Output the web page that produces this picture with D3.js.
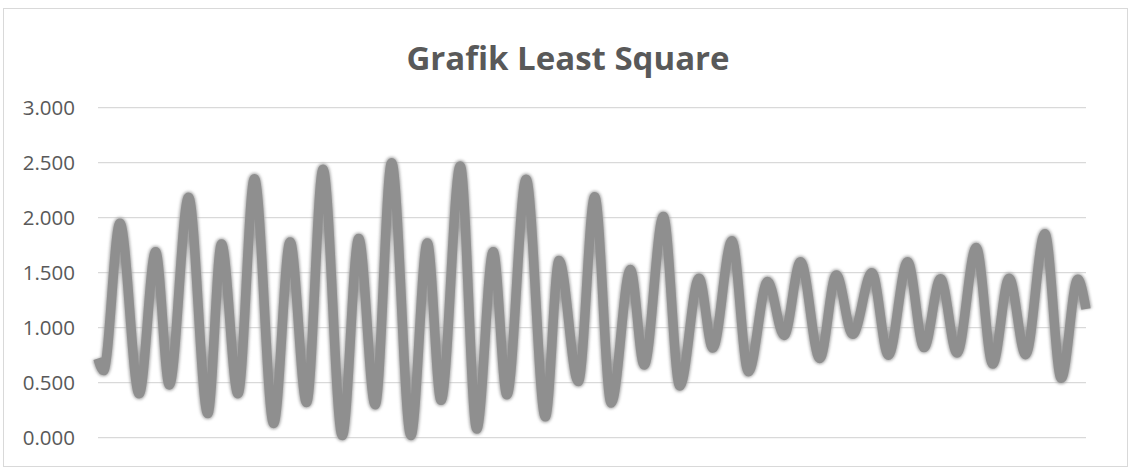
<!DOCTYPE html>
<html>
<head>
<meta charset="utf-8">
<script src="https://cdn.jsdelivr.net/npm/d3@7"></script>
<style>
  html, body { margin: 0; padding: 0; background: #fff; }
  svg { display: block; }
</style>
</head>
<body>
<figure id="least-square" style="margin:0"></figure>
<script>
// Hour of each turning point (plus start/end) and the water level
const hours = [0, 2, 8, 15, 21, 26, 33, 40, 45, 51, 57, 64, 70, 76, 82, 89, 95, 101, 107, 114,
  120, 125, 132, 138, 144, 149, 156, 163, 168, 175, 181, 187, 194, 199, 206, 212, 219, 224,
  231, 237, 244, 250, 256, 263, 269, 275, 282, 288, 295, 301, 307, 313, 320, 326, 332, 338,
  345, 351, 357, 360];
const levels = [0.72, 0.61, 1.95, 0.40, 1.69, 0.48, 2.185, 0.22, 1.76, 0.40, 2.355, 0.13, 1.78,
  0.32, 2.44, 0.02, 1.81, 0.30, 2.50, 0.02, 1.77, 0.34, 2.47, 0.08, 1.69, 0.39, 2.35, 0.19,
  1.61, 0.51, 2.19, 0.315, 1.53, 0.66, 2.01, 0.47, 1.45, 0.815, 1.79, 0.60, 1.42, 0.93, 1.60,
  0.72, 1.48, 0.94, 1.50, 0.75, 1.60, 0.82, 1.445, 0.77, 1.73, 0.67, 1.45, 0.755, 1.855, 0.54,
  1.44, 1.17];
const yTicks = [0, 0.5, 1, 1.5, 2, 2.5, 3];
const title = "Grafik Least Square";

const width = 1132, height = 469;
const plot = { left: 98, right: 1086, top: 107.7, bottom: 437.7 };

const svg = d3.select("figure#least-square")
  .append("svg")
  .attr("width", width)
  .attr("height", height);

// Chart border
svg.append("rect")
  .attr("x", 3.5).attr("y", 8.5)
  .attr("width", 1124).attr("height", 458)
  .attr("fill", "#fff")
  .attr("stroke", "#d9d9d9");

const x = d3.scaleLinear().domain([0, 360]).range([plot.left, plot.right]);
const y = d3.scaleLinear().domain([0, 3]).range([plot.bottom, plot.top]);

// Gridlines
svg.append("g")
  .selectAll("line")
  .data(yTicks)
  .join("line")
  .attr("x1", plot.left).attr("x2", plot.right)
  .attr("y1", d => y(d)).attr("y2", d => y(d))
  .attr("stroke", "#d9d9d9")
  .attr("stroke-width", 1.3);

// Y-axis labels
const fmt = d3.format(".3f");
svg.append("g")
  .selectAll("text")
  .data(yTicks)
  .join("text")
  .attr("x", 75)
  .attr("y", d => y(d))
  .attr("dy", "0.36em")
  .attr("text-anchor", "end")
  .style("font-family", "'Open Sans', sans-serif")
  .style("font-size", "20.5px")
  .style("fill", "#595959")
  .text(d => fmt(d));

// Title
svg.append("text")
  .attr("x", 568)
  .attr("y", 70)
  .attr("text-anchor", "middle")
  .style("font-family", "'Open Sans', sans-serif")
  .style("font-weight", "bold")
  .style("font-size", "33px")
  .style("fill", "#595959")
  .text(title);

// Soft edge filter
const defs = svg.append("defs");
defs.append("filter").attr("id", "soft")
  .append("feGaussianBlur").attr("stdDeviation", 1.4);

const line = d3.line()
  .x((d, i) => x(hours[i]))
  .y(d => y(d))
  .curve(d3.curveMonotoneX);

svg.append("path")
  .datum(levels)
  .attr("d", line)
  .attr("fill", "none")
  .attr("stroke", "#a6a6a6")
  .attr("stroke-width", 11.5)
  .attr("stroke-linejoin", "round")
  .attr("filter", "url(#soft)");

svg.append("path")
  .datum(levels)
  .attr("d", line)
  .attr("fill", "none")
  .attr("stroke", "#8f8f8f")
  .attr("stroke-width", 9.5)
  .attr("stroke-linejoin", "round");
</script>
</body>
</html>
